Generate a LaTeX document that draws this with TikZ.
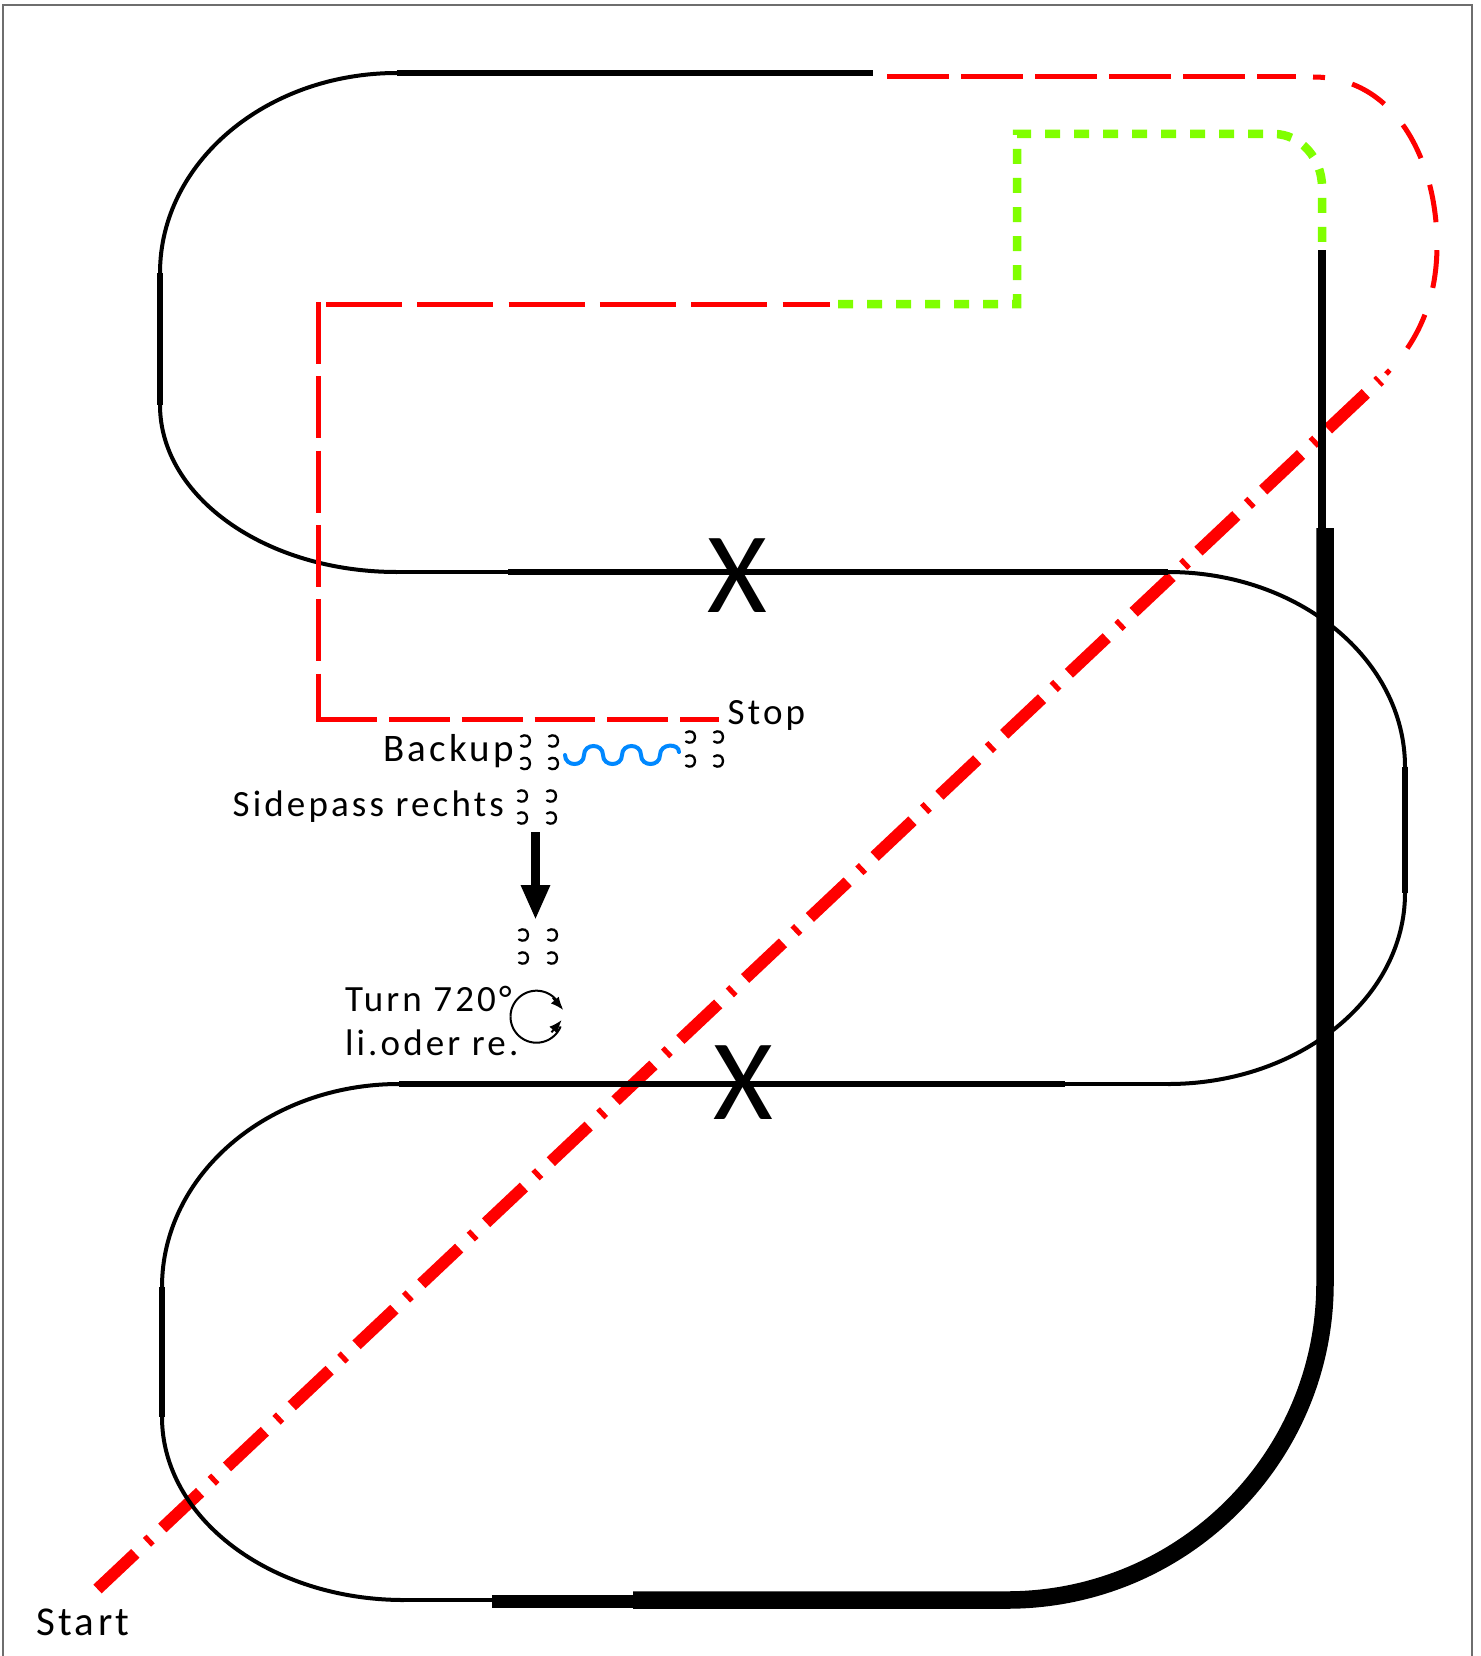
\documentclass[tikz,border=0pt]{standalone}
\usepackage{fontspec}
\setmainfont{Carlito}
\newfontfamily\lblfont{Carlito}[LetterSpace=8.5]
\newfontfamily\xfont{Carlito}
\usetikzlibrary{arrows.meta}
\definecolor{trackred}{RGB}{255,0,0}
\definecolor{trackgreen}{RGB}{128,255,0}
\definecolor{waveblue}{RGB}{0,136,255}
\definecolor{framegray}{RGB}{110,110,110}
\begin{document}
\begin{tikzpicture}[x=1pt,y=-1pt,
  every node/.style={inner sep=0pt, outer sep=0pt},
  lbl/.style={font={\lblfont\fontsize{37}{44}\selectfont}, anchor=base west},
  lblbig/.style={font={\lblfont\fontsize{39}{46}\selectfont}, anchor=base west},
  lblstart/.style={font={\lblfont\fontsize{41}{48}\selectfont}, anchor=base west},
  xmark/.style={font={\xfont\fontsize{115}{120}\selectfont}, anchor=base},
  thinarc/.style={line width=4pt},
  thinline/.style={line width=3.5pt},
  midline/.style={line width=5.5pt},
  heavyline/.style={line width=17.5pt},
  redthin/.style={draw=trackred, line width=5pt},
  diagline/.style={draw=trackred, line width=12pt, dash pattern=on 52pt off 16pt on 5pt off 16pt},
  greenpath/.style={draw=trackgreen, line width=8.5pt, dash pattern=on 15pt off 14pt},
  hoof/.pic={\draw[line width=2.3pt, line cap=round] (-4,-4.5) .. controls (0,-7) and (5,-5.5) .. (5,0) .. controls (5,5.5) and (0,7) .. (-4,4.5);},
  turnline/.style={line width=2pt},
  turntip/.style={line width=2pt, -{Latex[length=13pt,width=10.5pt]}}
]
\useasboundingbox (0,0) rectangle (1480,1656);
\fill[white] (0,0) rectangle (1480,1656);
% frame
\draw[draw=framegray, line width=1.7pt] (3.3,1700) -- (3.3,5.3) -- (1471.7,5.3) -- (1471.7,1700);

% diagonal start line
\coordinate (dstart) at (97.5,1589);
\coordinate (dend) at (1380,380);
\draw[diagline] (dstart) -- (dend);

% black track
\draw[thinarc] (397,73) .. controls (266.1,73) and (160,162.5) .. (160,273);
\draw[midline] (397,73) -- (873,73);
\draw[midline] (160,273) -- (160,405);
\draw[thinarc] (160,405) .. controls (160,497.2) and (266.1,572) .. (397,572);
\draw[thinline] (397,572) -- (508,572);
\draw[midline] (508,572) -- (1168,572);
\draw[thinarc] (1168,572) .. controls (1298.9,572) and (1405,659.3) .. (1405,767);
\draw[midline] (1405,767) -- (1405,893);
\draw[thinarc] (1405,893) .. controls (1405,998.5) and (1298.9,1084) .. (1168,1084);
\draw[thinline] (1168,1084) -- (1065,1084);
\draw[midline] (1065,1084) -- (399,1084);
\draw[thinarc] (399,1084) .. controls (268.1,1084) and (162,1174.9) .. (162,1287);
\draw[midline] (162,1287) -- (162,1417);
\draw[thinarc] (162,1417) .. controls (162,1518.1) and (270.3,1600) .. (404,1600);
\draw[thinline] (404,1600) -- (492,1600);
\draw[line width=13pt] (492,1601) -- (640,1601);
\draw[heavyline] (633,1600) -- (1007,1600) .. controls (1182.6,1600) and (1325,1458.1) .. (1325,1283) -- (1325,528);
\draw[line width=8pt] (1322,528) -- (1322,250);

% red dashed path
\draw[redthin, dash pattern=on 76pt off 15.3pt] (326,304) -- (830,304);
\draw[redthin, dash pattern=on 62pt off 12.3pt] (318.7,302) -- (318.7,717);
\draw[redthin, dash pattern=on 60.7pt off 12.1pt] (316.2,719.3) -- (719.3,719.3);
\draw[redthin, dash pattern=on 62pt off 12pt] (887,76.5) -- (1296,76.5);
\draw[redthin, dash pattern=on 38pt off 28pt, dash phase=26pt] (1313,77) .. controls (1395,77) and (1437,160) .. (1437,245) .. controls (1437,300) and (1418,342) .. (1386,374);

% green dotted path
\draw[greenpath] (838,304) -- (1017,304) -- (1017,134) -- (1274,134) .. controls (1300,134) and (1322,158) .. (1322,187) -- (1322,250);

% X marks
\node[xmark] (x1) at (737.5,612) {X};
\node[xmark] (x2) at (743.5,1119) {X};

% labels
\node[lbl] (stop) at (727.7,724) {Stop};
\node[lblbig] (backup) at (383,761.7) {Backup};
\node[lbl] (sidepass) at (232.7,816.7) {Sidepass rechts};
\node[lbl] (turn) at (345,1011.7) {Turn 720°};
\node[lbl] (lioder) at (345,1055) {li.oder re.};
\node[lblstart] (start) at (36,1635) {Start};

% hoof prints
\pic (hb1) at (525,741) {hoof};
\pic (hb2) at (553,741) {hoof};
\pic (hb3) at (525,763.5) {hoof};
\pic (hb4) at (553,763.5) {hoof};
\pic (hs1) at (522,796) {hoof};
\pic (hs2) at (551,796) {hoof};
\pic (hs3) at (522,818) {hoof};
\pic (hs4) at (551,818) {hoof};
\pic (ha1) at (523,935) {hoof};
\pic (ha2) at (552,935) {hoof};
\pic (ha3) at (523,958) {hoof};
\pic (ha4) at (552,958) {hoof};
\pic (hp1) at (690,737) {hoof};
\pic (hp2) at (718,737) {hoof};
\pic (hp3) at (690,761) {hoof};
\pic (hp4) at (718,761) {hoof};

% blue wave (backup)
\draw[draw=waveblue, line width=4pt, line cap=round]
  (565,755) .. controls (565,767) and (584,767) .. (584,755)
            .. controls (584,743) and (603,743) .. (603,755)
            .. controls (603,767) and (622,767) .. (622,755)
            .. controls (622,743) and (641,743) .. (641,755)
            .. controls (641,767) and (660,767) .. (660,755)
            .. controls (660,743) and (679,743) .. (679,752);

% arrow down (sidepass)
\coordinate (arrS) at (535.5,832);
\coordinate (arrE) at (535.5,920);
\draw[line width=9pt, -{Triangle[length=35pt,width=27pt]}] (arrS) -- (arrE);

% turn circle arrows
\coordinate (tc) at (536.5,1016.7);
\draw[turnline] plot[domain=-180:-22, samples=50] ({536.5+26*cos(\x)},{1016.7+26*sin(\x)});
\draw[turnline] plot[domain=180:22, samples=50] ({536.5+26*cos(\x)},{1016.7+26*sin(\x)});
\coordinate (tipAs) at (552.9,997.8);
\coordinate (tipAe) at (563.3,1010);
\coordinate (tipBs) at (551.5,1032.3);
\coordinate (tipBe) at (561.7,1020);
\draw[turntip] (tipAs) -- (tipAe);
\draw[turntip] (tipBs) -- (tipBe);
\end{tikzpicture}
\end{document}
